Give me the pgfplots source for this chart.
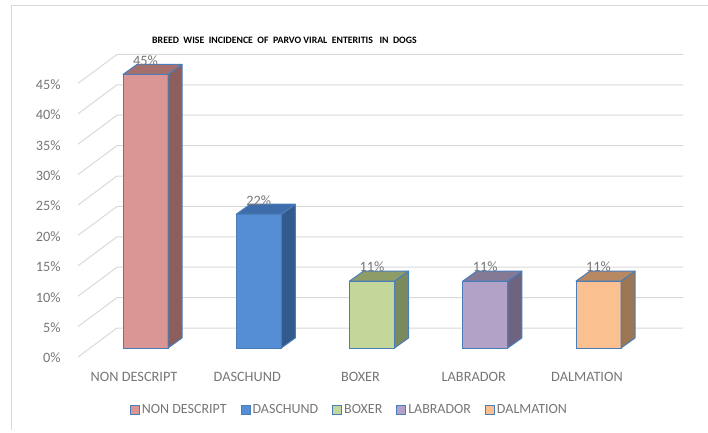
\documentclass[border=0pt]{standalone}
\usepackage{fontspec}
\setmainfont{Carlito}
\usepackage{pgfplots}
\pgfplotsset{compat=1.18}
\usepackage{pgfplotstable}

\definecolor{edge}{HTML}{4A7EBB}
\definecolor{gridc}{HTML}{D9D9D9}
\definecolor{txt}{HTML}{767676}
\definecolor{nonF}{HTML}{D99694}\definecolor{nonS}{HTML}{8C5E5C}\definecolor{nonT}{HTML}{A46F6D}
\definecolor{dasF}{HTML}{558ED5}\definecolor{dasS}{HTML}{335A8C}\definecolor{dasT}{HTML}{3F6CAA}
\definecolor{boxF}{HTML}{C4D79B}\definecolor{boxS}{HTML}{7A8A5C}\definecolor{boxT}{HTML}{8E9D68}
\definecolor{labF}{HTML}{B3A2C7}\definecolor{labS}{HTML}{6F6480}\definecolor{labT}{HTML}{857A96}
\definecolor{dalF}{HTML}{FAC090}\definecolor{dalS}{HTML}{9C7755}\definecolor{dalT}{HTML}{B88862}

\pgfplotstableread{
x v
0 45
}\tNon
\pgfplotstableread{
x v
1 22
}\tDas
\pgfplotstableread{
x v
2 11
}\tBox
\pgfplotstableread{
x v
3 11
}\tLab
\pgfplotstableread{
x v
4 11
}\tDal

% side face of a 3D bar, drawn at the bar's top-front-centre
\pgfdeclareplotmark{cubeside}{%
  \pgfmathsetmacro\hh{\rawy*6.08}%
  \pgfpathmoveto{\pgfpoint{22.5bp}{0bp}}%
  \pgfpathlineto{\pgfpoint{36.5bp}{10bp}}%
  \pgfpathlineto{\pgfpoint{36.5bp}{10bp-\hh bp}}%
  \pgfpathlineto{\pgfpoint{22.5bp}{-\hh bp}}%
  \pgfpathclose
  \pgfusepath{fill,stroke}%
}
\pgfdeclareplotmark{cubetop}{%
  \pgfpathmoveto{\pgfpoint{-22.5bp}{0bp}}%
  \pgfpathlineto{\pgfpoint{22.5bp}{0bp}}%
  \pgfpathlineto{\pgfpoint{36.5bp}{10bp}}%
  \pgfpathlineto{\pgfpoint{-8.5bp}{10bp}}%
  \pgfpathclose
  \pgfusepath{fill,stroke}%
}

\pgfplotsset{
  front/.style={ybar, bar width=45bp, bar shift=0pt, fill=#1, draw=edge, line width=1bp,
    legend image code/.code={\draw[##1, line width=0.9bp] (0bp,-4.5bp) rectangle (9bp,4.5bp);}},
  side/.style={only marks, forget plot, mark=cubeside,
    visualization depends on={rawy \as \rawy},
    mark options={solid, fill=#1, draw=edge, line width=1bp, line join=round}},
  top/.style={only marks, forget plot, mark=cubetop,
    mark options={solid, fill=#1, draw=edge, line width=1bp, line join=round},
    nodes near coords={\pgfmathprintnumber{\pgfplotspointmeta}\%},
    every node near coord/.append style={anchor=center, yshift=14bp,
      font=\fontsize{14.3bp}{16bp}\selectfont, text=txt}},
}

\begin{document}
\begin{tikzpicture}
\begin{axis}[
  at={(0,0)}, anchor=south west,
  width=708bp, height=433bp, scale only axis,
  xmin=-1.2848, xmax=4.9669, ymin=-13.98, ymax=57.24,
  clip=false,
  axis line style={draw=none},
  major tick length=0pt,
  xtick={0,1,2,3,4},
  xticklabels={NON DESCRIPT, DASCHUND, BOXER, LABRADOR, DALMATION},
  ytick={0,5,...,45},
  yticklabel={\pgfmathprintnumber{\tick}\%},
  /pgf/number format/assume math mode=true,
  ticklabel style={font=\fontsize{14.3bp}{16bp}\selectfont, text=txt},
  yticklabel style={anchor=east, xshift=64bp, yshift=-10bp},
  xticklabel style={anchor=center, yshift=56bp, xshift=-11.5bp},
  legend columns=5,
  legend cell align=left,
  legend style={draw=none, fill=none, at={(rel axis cs:0.4936,0.0531)}, anchor=center,
    font=\fontsize{14bp}{16bp}\selectfont, text=txt,
    nodes={inner xsep=2bp},
    /tikz/every even column/.append style={column sep=12bp}},
]
% chart area border (left and top)
\draw[gridc, line width=1bp] (axis cs:-1.1876,-13.49) -- (axis cs:-1.1876,56.41) -- (axis cs:4.9669,56.41);
% gridlines: front floor edge to back wall, then along the back wall
\pgfplotsinvokeforeach{0,5,10,15,20,25,30,35,40,45}{
  \draw[gridc, line width=1bp] (axis cs:-0.596,{#1-1.48}) -- (axis cs:-0.2517,{#1+3.29}) -- (axis cs:4.7461,{#1+3.29});
}

\addplot[front=nonF] table[x=x,y=v]{\tNon};
\addlegendentry{NON DESCRIPT}
\addplot[front=dasF] table[x=x,y=v]{\tDas};
\addlegendentry{DASCHUND}
\addplot[front=boxF] table[x=x,y=v]{\tBox};
\addlegendentry{BOXER}
\addplot[front=labF] table[x=x,y=v]{\tLab};
\addlegendentry{LABRADOR}
\addplot[front=dalF] table[x=x,y=v]{\tDal};
\addlegendentry{DALMATION}

\addplot[side=nonS] table[x=x,y=v]{\tNon};
\addplot[side=dasS] table[x=x,y=v]{\tDas};
\addplot[side=boxS] table[x=x,y=v]{\tBox};
\addplot[side=labS] table[x=x,y=v]{\tLab};
\addplot[side=dalS] table[x=x,y=v]{\tDal};

\addplot[top=nonT] table[x=x,y=v]{\tNon};
\addplot[top=dasT] table[x=x,y=v]{\tDas};
\addplot[top=boxT] table[x=x,y=v]{\tBox};
\addplot[top=labT] table[x=x,y=v]{\tLab};
\addplot[top=dalT] table[x=x,y=v]{\tDal};

\node[font=\bfseries\fontsize{9.8bp}{11bp}\selectfont, text=black] at (rel axis cs:0.4018,0.9076)
  {BREED\ \ WISE\ \ INCIDENCE\ \ OF\ \ PARVO VIRAL\ \ ENTERITIS\ \ \ IN\ \ DOGS};
\end{axis}
\pgfresetboundingbox
\useasboundingbox (0,0) rectangle (708bp,433bp);
\end{tikzpicture}
\end{document}
